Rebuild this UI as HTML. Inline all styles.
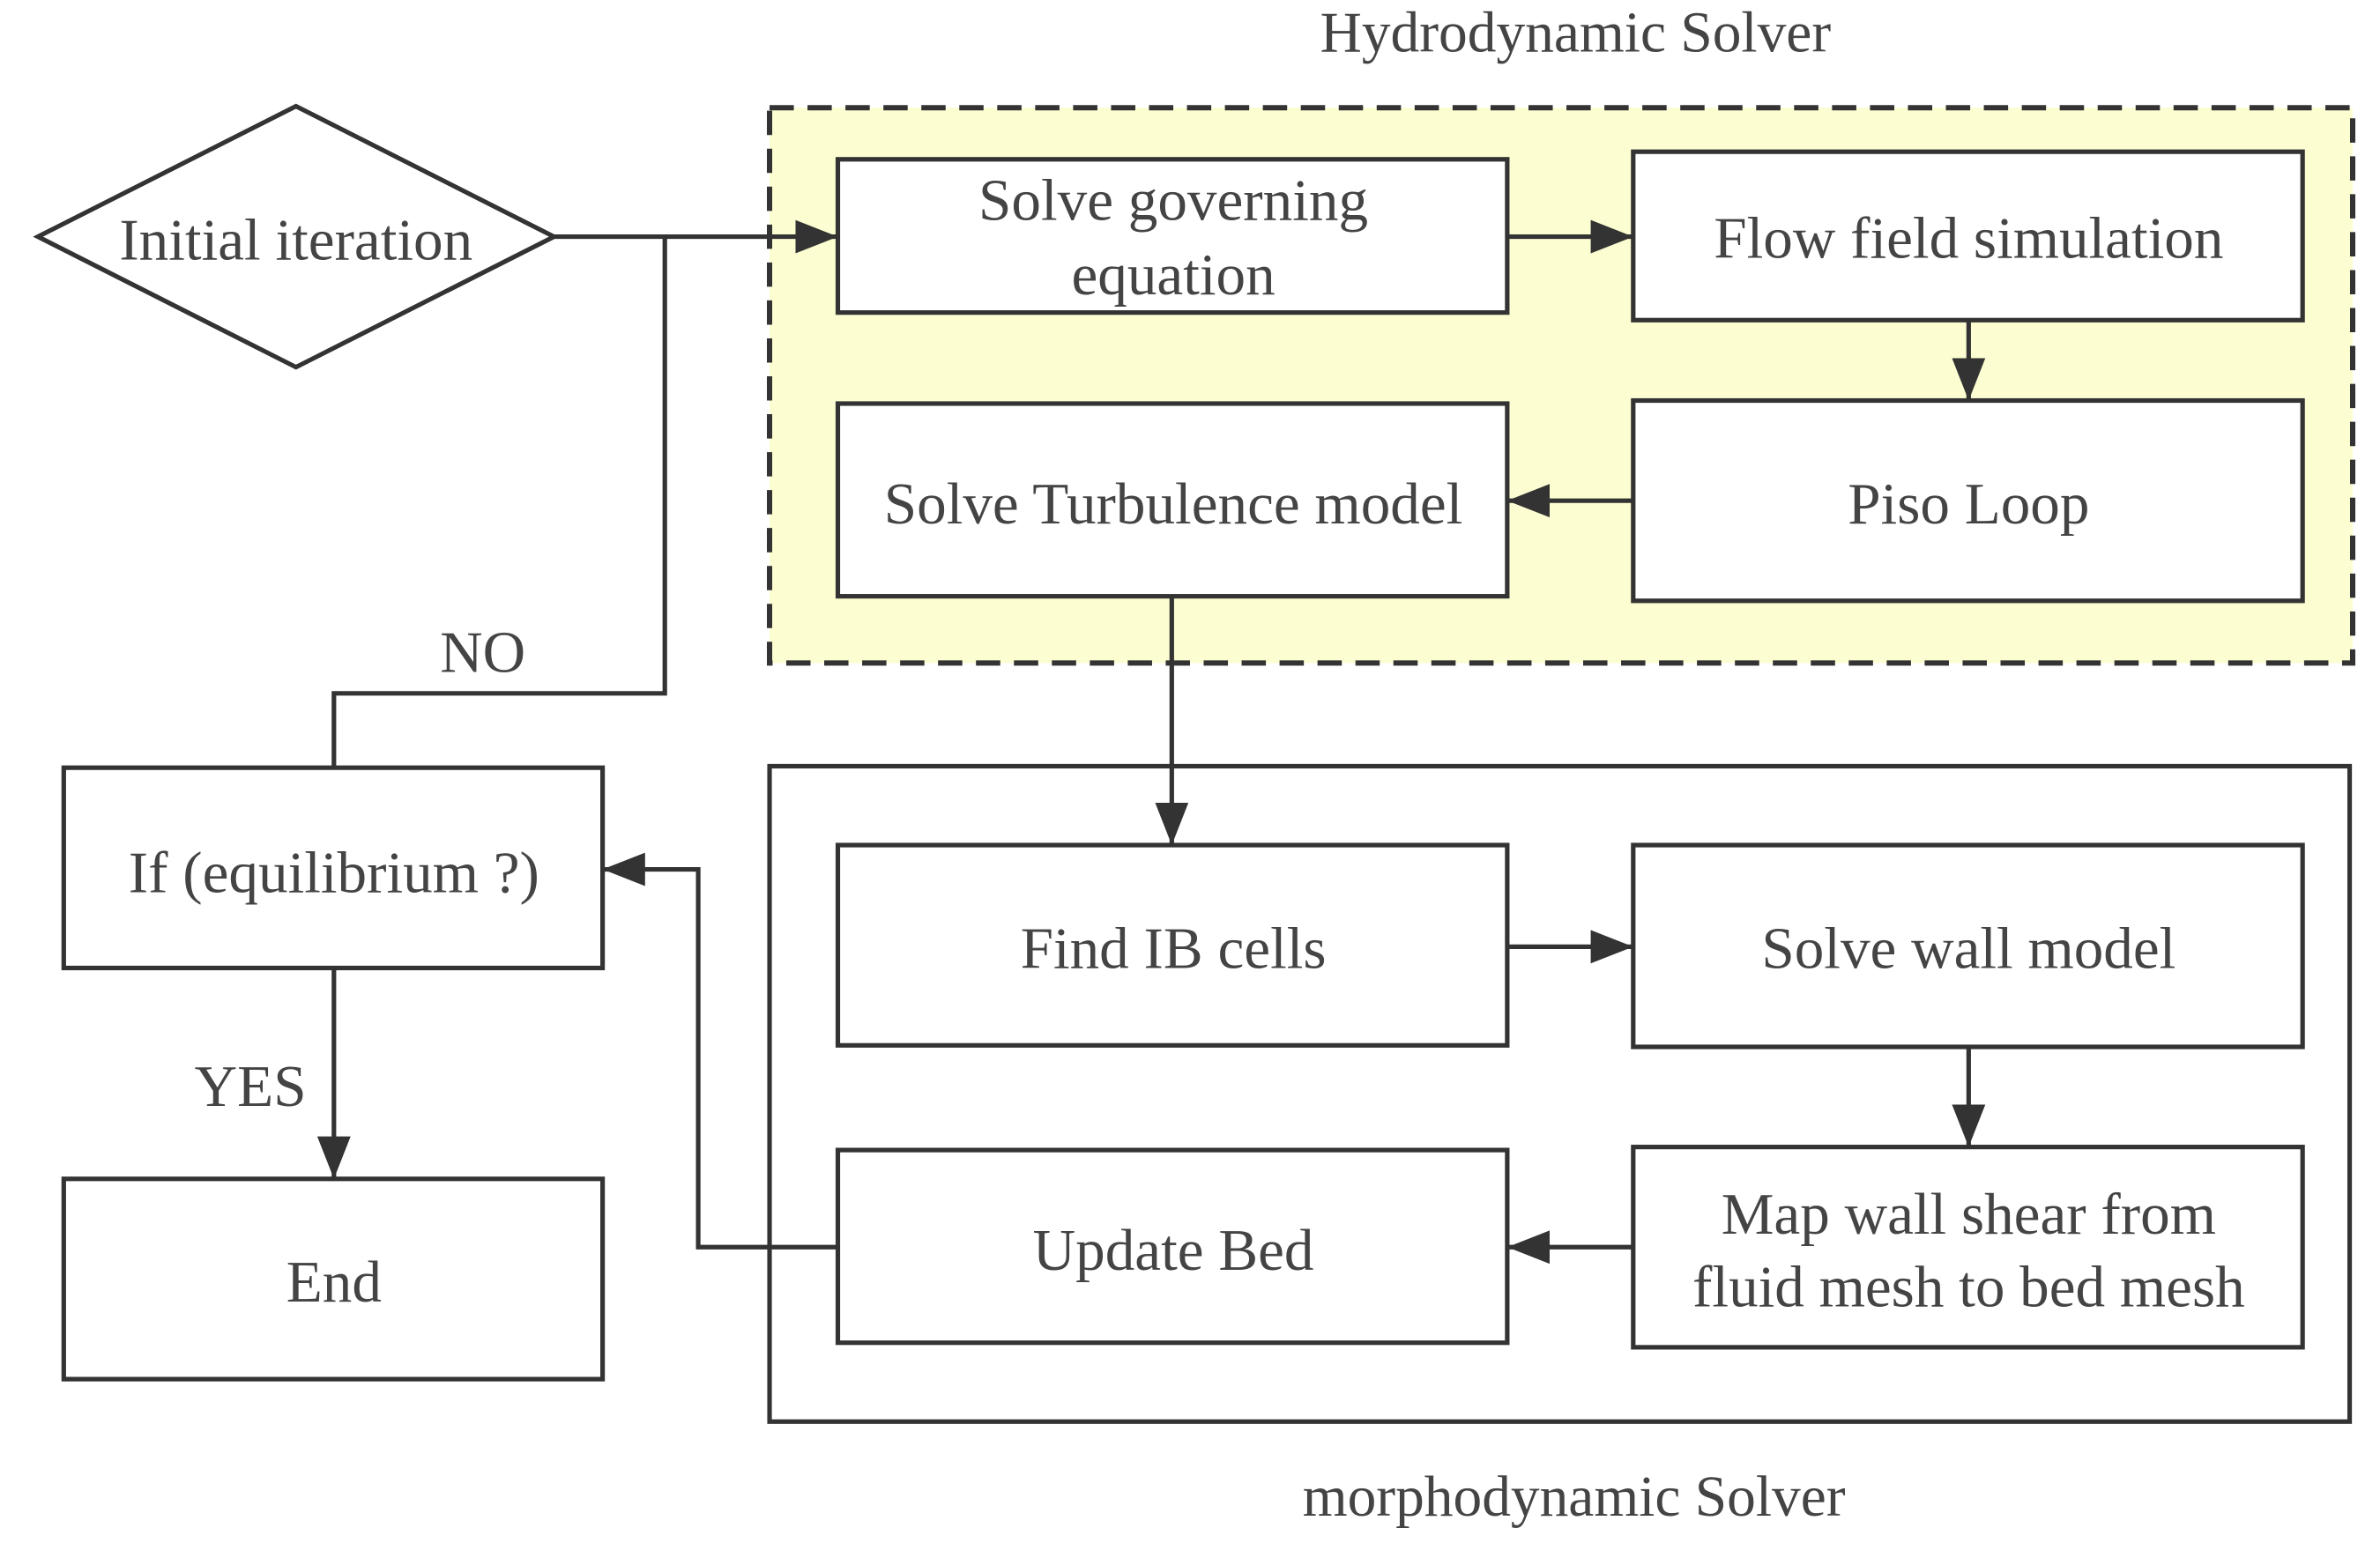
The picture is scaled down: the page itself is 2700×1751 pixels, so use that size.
<!DOCTYPE html>
<html><head><meta charset="utf-8"><style>html,body{margin:0;padding:0;background:#fff}svg{display:block}</style></head>
<body>
<svg width="2700" height="1751" viewBox="0 0 1568 1017" preserveAspectRatio="none" xmlns="http://www.w3.org/2000/svg">
<defs>
<marker id="b" markerWidth="28" markerHeight="22" refX="28" refY="11" orient="auto" markerUnits="userSpaceOnUse"><path d="M0,0 L28,11 L0,22 z" fill="#333"/></marker></defs>
<g font-family="Liberation Serif, serif" fill="#444" text-anchor="middle">
<text x="1038" y="34" font-size="38">Hydrodynamic Solver</text>
<text x="1037" y="999" font-size="38">morphodynamic Solver</text>
</g>
<rect x="507" y="71" width="1043" height="366" fill="#fdfdd2" stroke="#333" stroke-width="3.5" stroke-dasharray="16,9"/>
<rect x="507" y="505" width="1041" height="432" fill="none" stroke="#333" stroke-width="3"/>
<polygon points="25,156 195,70 365,156 195,242" fill="#fff" stroke="#333" stroke-width="3"/>
<g fill="#fff" stroke="#333" stroke-width="3">
<rect x="552" y="105" width="441" height="101"/>
<rect x="1076" y="100" width="441" height="111"/>
<rect x="552" y="266" width="441" height="127"/>
<rect x="1076" y="264" width="441" height="132"/>
<rect x="552" y="557" width="441" height="132"/>
<rect x="1076" y="557" width="441" height="133"/>
<rect x="552" y="758" width="441" height="127"/>
<rect x="1076" y="756" width="441" height="132"/>
<rect x="42" y="506" width="355" height="132"/>
<rect x="42" y="777" width="355" height="132"/>
</g>
<g fill="none" stroke="#333" stroke-width="3">
<line x1="365" y1="156" x2="552" y2="156" marker-end="url(#b)"/>
<polyline points="438,156 438,457 220,457 220,506"/>
<line x1="993" y1="156" x2="1076" y2="156" marker-end="url(#b)"/>
<line x1="1297" y1="211" x2="1297" y2="264" marker-end="url(#b)"/>
<line x1="1076" y1="330" x2="993" y2="330" marker-end="url(#b)"/>
<line x1="772" y1="393" x2="772" y2="557" marker-end="url(#b)"/>
<line x1="993" y1="624" x2="1076" y2="624" marker-end="url(#b)"/>
<line x1="1297" y1="690" x2="1297" y2="756" marker-end="url(#b)"/>
<line x1="1076" y1="822" x2="993" y2="822" marker-end="url(#b)"/>
<polyline points="552,822 460,822 460,573 397,573" marker-end="url(#b)"/>
<line x1="220" y1="638" x2="220" y2="777" marker-end="url(#b)"/>
</g>
<g font-family="Liberation Serif, serif" fill="#444" text-anchor="middle" font-size="39">
<text x="195" y="171">Initial iteration</text>
<text x="773" y="145">Solve governing</text>
<text x="773" y="194">equation</text>
<text x="1297" y="170">Flow field simulation</text>
<text x="773" y="345">Solve Turbulence model</text>
<text x="1297" y="345">Piso Loop</text>
<text x="773" y="638">Find IB cells</text>
<text x="1297" y="638">Solve wall model</text>
<text x="773" y="837">Update Bed</text>
<text x="1297" y="813">Map wall shear from</text>
<text x="1297" y="861">fluid mesh to bed mesh</text>
<text x="220" y="588">If (equilibrium ?)</text>
<text x="220" y="858">End</text>
<text x="318" y="443">NO</text>
<text x="165" y="729">YES</text>
</g>
</svg>
</body></html>
